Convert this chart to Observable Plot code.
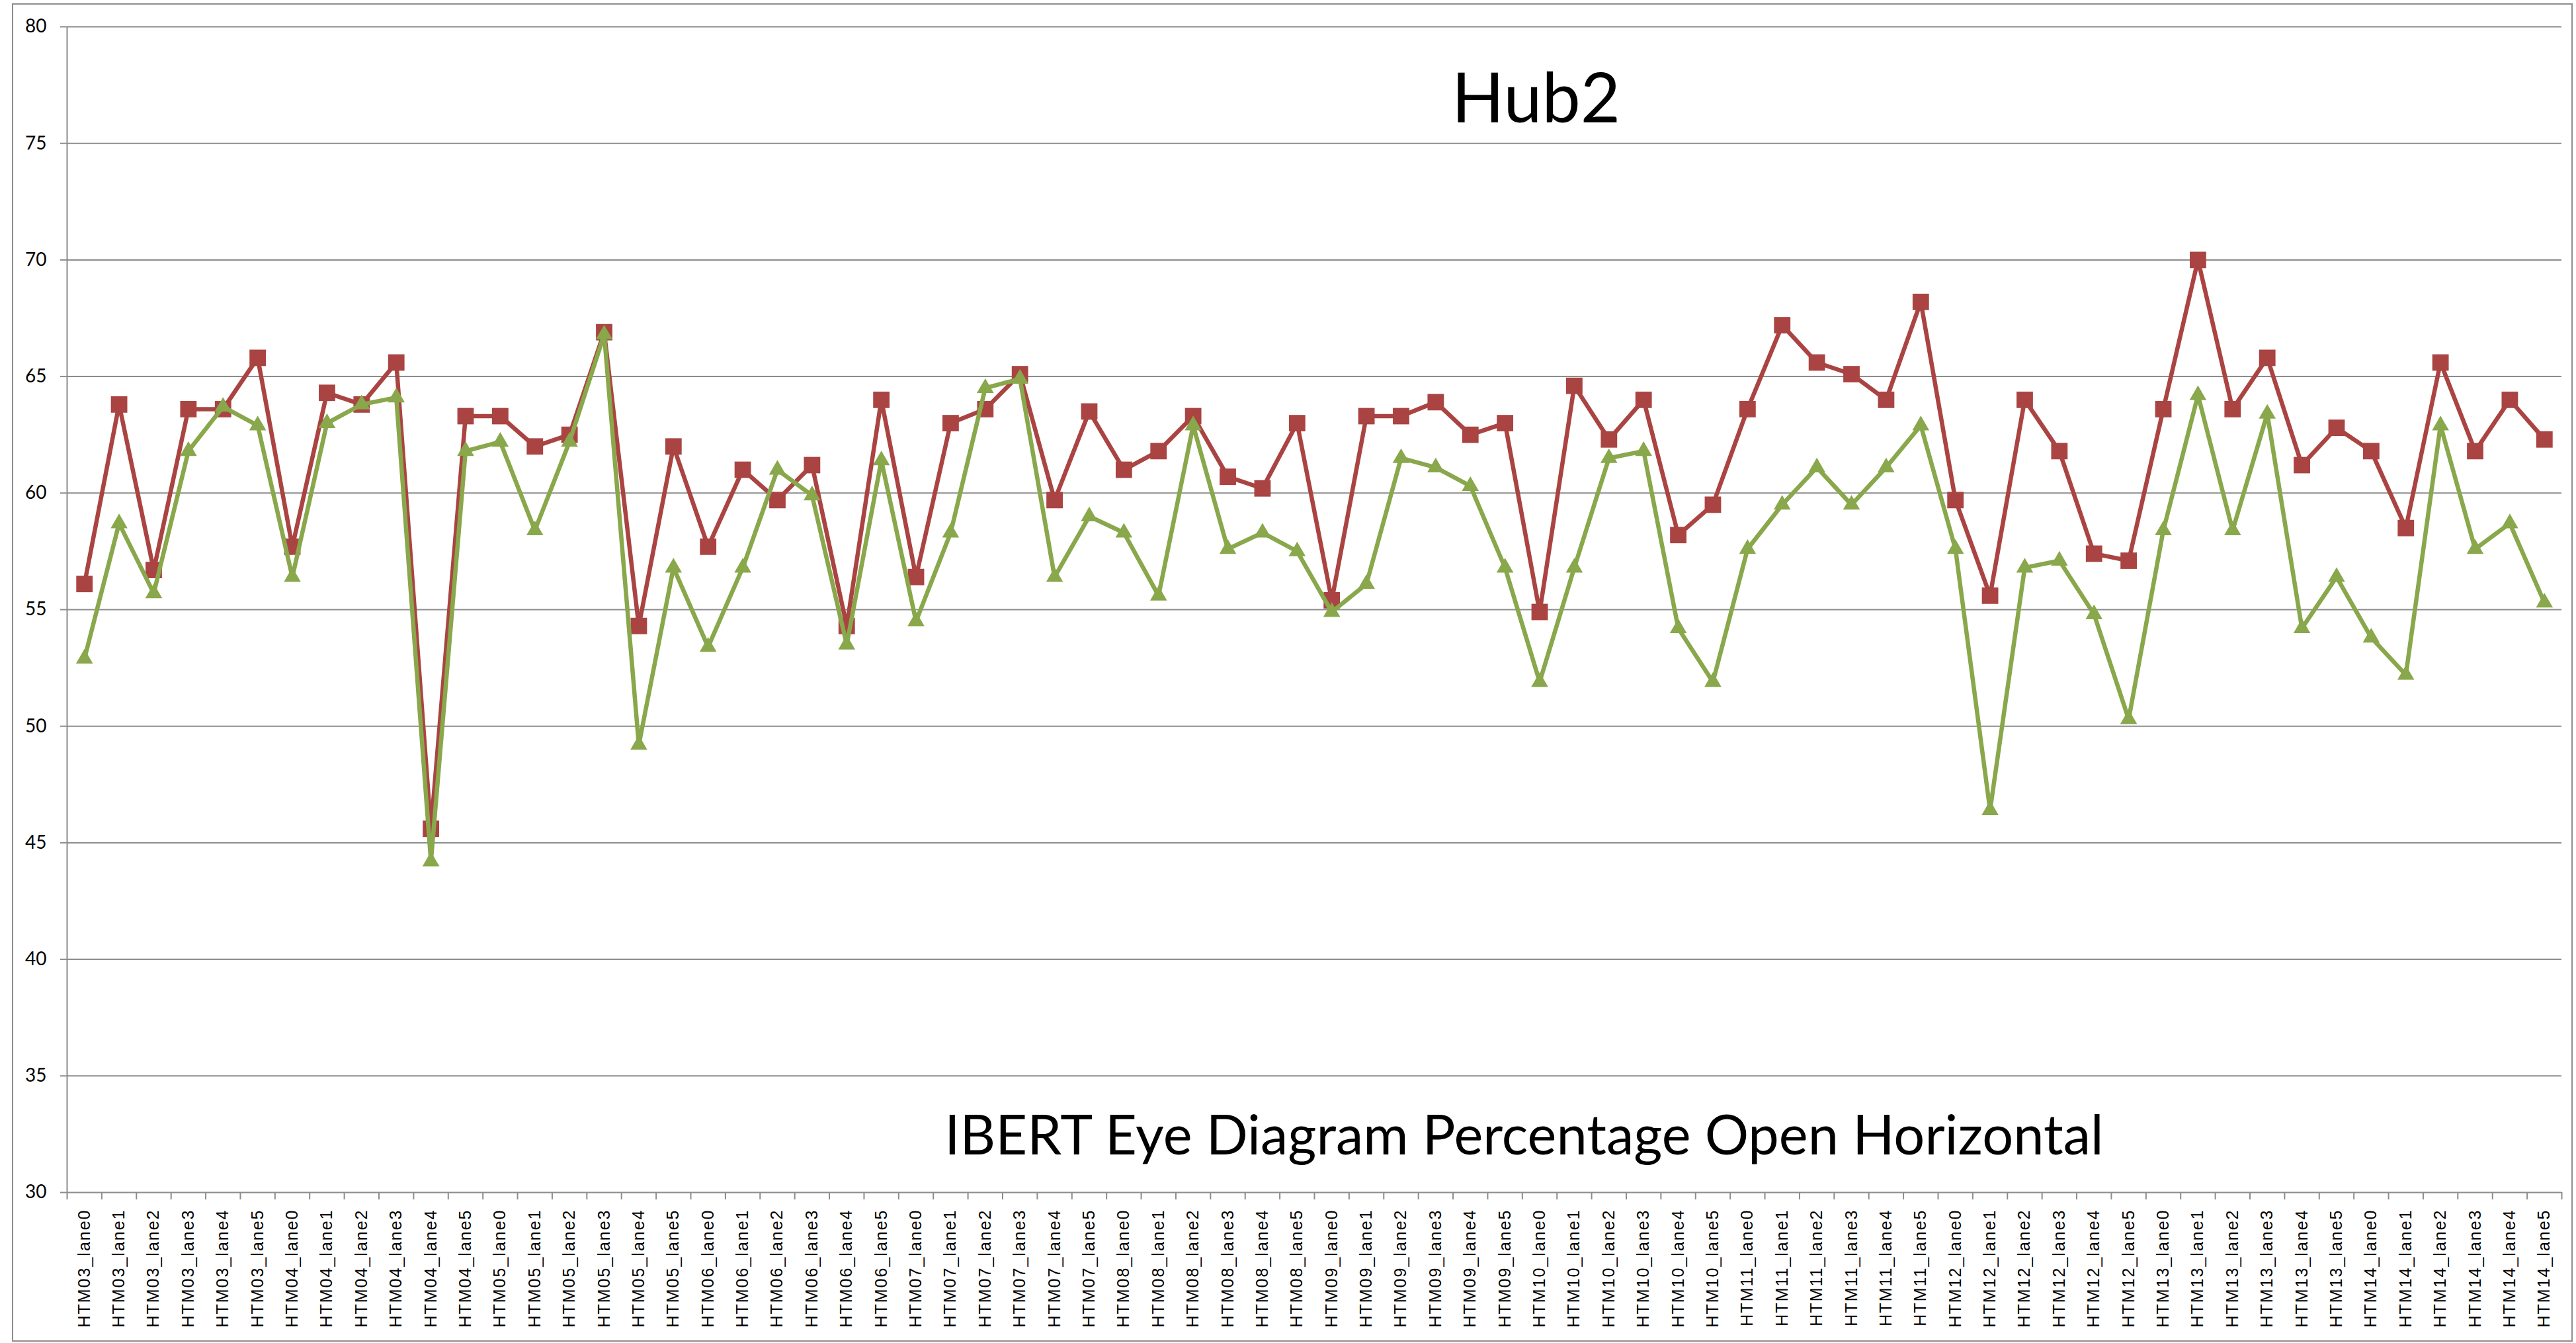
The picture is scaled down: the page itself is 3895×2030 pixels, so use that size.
<!DOCTYPE html>
<html>
<head>
<meta charset="utf-8">
<script src="https://cdn.jsdelivr.net/npm/d3@7"></script>
<script src="https://cdn.jsdelivr.net/npm/@observablehq/plot@0.6"></script>
<style>
  html, body { margin: 0; padding: 0; background: #ffffff; }
  #wrap { position: relative; width: 3895px; height: 2030px; overflow: hidden; background: #fff; }
  #border { position: absolute; left: 18px; top: 5px; width: 3872px; height: 2023px; border: 2px solid #8e8e8e; box-sizing: border-box; pointer-events: none; }
  #chart svg { display: block; }
  g[aria-label="x-axis tick label"] text { letter-spacing: 2px; }
</style>
</head>
<body>
<div id="wrap">
  <div id="chart"></div>
  <div id="border"></div>
</div>
<script>
// ---- Data ----
const modules = ["HTM03", "HTM04", "HTM05", "HTM06", "HTM07", "HTM08", "HTM09", "HTM10", "HTM11", "HTM12", "HTM13", "HTM14"];
const lanes = ["lane0", "lane1", "lane2", "lane3", "lane4", "lane5"];
const categories = modules.flatMap(m => lanes.map(l => `${m}_${l}`));

// red series (square markers)
const seriesRed = [
  56.1, 63.8, 56.7, 63.6, 63.6, 65.8,
  57.7, 64.3, 63.8, 65.6, 45.6, 63.3,
  63.3, 62.0, 62.5, 66.9, 54.3, 62.0,
  57.7, 61.0, 59.7, 61.2, 54.3, 64.0,
  56.4, 63.0, 63.6, 65.1, 59.7, 63.5,
  61.0, 61.8, 63.3, 60.7, 60.2, 63.0,
  55.4, 63.3, 63.3, 63.9, 62.5, 63.0,
  54.9, 64.6, 62.3, 64.0, 58.2, 59.5,
  63.6, 67.2, 65.6, 65.1, 64.0, 68.2,
  59.7, 55.6, 64.0, 61.8, 57.4, 57.1,
  63.6, 70.0, 63.6, 65.8, 61.2, 62.8,
  61.8, 58.5, 65.6, 61.8, 64.0, 62.3
];

// green series (triangle markers)
const seriesGreen = [
  52.9, 58.7, 55.7, 61.8, 63.7, 62.9,
  56.4, 63.0, 63.8, 64.1, 44.2, 61.8,
  62.2, 58.4, 62.2, 66.8, 49.2, 56.8,
  53.4, 56.8, 61.0, 59.9, 53.5, 61.4,
  54.5, 58.3, 64.5, 64.9, 56.4, 59.0,
  58.3, 55.6, 62.9, 57.6, 58.3, 57.5,
  54.9, 56.1, 61.5, 61.1, 60.3, 56.8,
  51.9, 56.8, 61.5, 61.8, 54.2, 51.9,
  57.6, 59.5, 61.1, 59.5, 61.1, 62.9,
  57.6, 46.4, 56.8, 57.1, 54.8, 50.3,
  58.4, 64.2, 58.4, 63.4, 54.2, 56.4,
  53.8, 52.2, 62.9, 57.6, 58.7, 55.3
];

const yTicks = [30, 35, 40, 45, 50, 55, 60, 65, 70, 75, 80];
const titleText = "Hub2";
const subtitleText = "IBERT Eye Diagram Percentage Open Horizontal";

// ---- Build table ----
const rows = categories.map((c, i) => ({i, c, red: seriesRed[i], green: seriesGreen[i]}));
const boundaries = d3.range(categories.length + 1).map(k => k - 0.5);
const centers = categories.map((c, i) => i);

const RED = "#AA4442";
const GREEN = "#89A74B";
const GRID = "#8c8c8c";

const chart = Plot.plot({
  width: 3895,
  height: 2030,
  marginLeft: 101,
  marginRight: 22,
  marginTop: 40,
  marginBottom: 228,
  style: {background: "#ffffff", color: "#000000", fontFamily: "Lato, sans-serif"},
  x: {type: "linear", domain: [-0.5, categories.length - 0.5], label: null},
  y: {domain: [30, 80], label: null},
  marks: [
    // horizontal gridlines + x axis line
    Plot.ruleY(yTicks, {stroke: GRID, strokeWidth: 2}),
    // vertical axis line
    Plot.ruleX([-0.5], {stroke: GRID, strokeWidth: 2}),
    // y axis ticks and labels
    Plot.axisY({ticks: yTicks, tickSize: 10, tickPadding: 21, tickFormat: d => String(d), label: null,
      stroke: GRID, strokeWidth: 2, fontSize: 28, fontFamily: "Lato, sans-serif", fill: "#000"}),
    // x axis boundary tick marks (no labels)
    Plot.axisX({ticks: boundaries, tickSize: 11, fill: "none", label: null, stroke: GRID, strokeWidth: 2}),
    // x axis category labels
    Plot.axisX({ticks: centers, tickSize: 0, tickPadding: 25, tickRotate: -90, label: null,
      textAnchor: "end", lineAnchor: "middle",
      tickFormat: d => categories[Math.round(d)],
      fontSize: 25, fontFamily: "'Liberation Sans', Arial, sans-serif", fill: "#000"}),
    // red series
    Plot.line(rows, {x: "i", y: "red", stroke: RED, strokeWidth: 6.5, strokeLinejoin: "miter"}),
    Plot.dot(rows, {x: "i", y: "red", symbol: "square", r: 14, fill: RED, stroke: "none"}),
    // green series
    Plot.line(rows, {x: "i", y: "green", stroke: GREEN, strokeWidth: 6.5, strokeLinejoin: "miter"}),
    Plot.dot(rows, {x: "i", y: "green", symbol: "triangle", r: 9.5, fill: GREEN, stroke: "none"}),
    // title and subtitle inside the plot area
    Plot.text([titleText], {text: d => d, frameAnchor: "top", lineAnchor: "bottom", dx: 335, dy: 144,
      fontSize: 104, fontFamily: "Lato, sans-serif", fill: "#000"}),
    Plot.text([subtitleText], {text: d => d, frameAnchor: "bottom", lineAnchor: "bottom", dx: 317, dy: -58,
      fontSize: 83, fontFamily: "Lato, sans-serif", fill: "#000"})
  ]
});

document.getElementById("chart").appendChild(chart);
</script>
</body>
</html>
